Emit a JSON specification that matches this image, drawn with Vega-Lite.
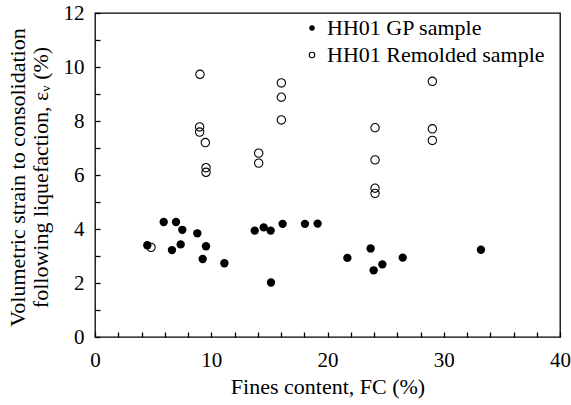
{
  "$schema": "https://vega.github.io/schema/vega-lite/v6.json",
  "width": 465,
  "height": 324,
  "autosize": "none",
  "padding": {"left": 95, "top": 13, "right": 11, "bottom": 68},
  "background": "white",
  "config": {
    "font": "Liberation Serif",
    "view": {"stroke": "black", "strokeWidth": 1.3, "fill": null},
    "axis": {
      "domain": false, "tickColor": "black", "tickWidth": 1.3, "ticks": true, "zindex": 2,
      "labelColor": "black", "titleColor": "black", "grid": false,
      "labelFont": "Liberation Serif", "titleFont": "Liberation Serif",
      "labelFontSize": 21, "titleFontSize": 22, "titleFontWeight": "normal",
      "labelOverlap": false, "labelFlush": false
    },
    "legend": {
      "labelFont": "Liberation Serif", "labelFontSize": 22, "labelColor": "black", "labelLimit": 0
    }
  },
  "data": {
    "values": [
      {"sample": "HH01 Remolded sample", "fc": 9.03, "ev": 9.73},
      {"sample": "HH01 Remolded sample", "fc": 9.0, "ev": 7.78},
      {"sample": "HH01 Remolded sample", "fc": 9.0, "ev": 7.59},
      {"sample": "HH01 Remolded sample", "fc": 9.49, "ev": 7.2},
      {"sample": "HH01 Remolded sample", "fc": 9.55, "ev": 6.27},
      {"sample": "HH01 Remolded sample", "fc": 9.55, "ev": 6.1},
      {"sample": "HH01 Remolded sample", "fc": 14.08, "ev": 6.81},
      {"sample": "HH01 Remolded sample", "fc": 14.08, "ev": 6.44},
      {"sample": "HH01 Remolded sample", "fc": 16.03, "ev": 9.41},
      {"sample": "HH01 Remolded sample", "fc": 16.03, "ev": 8.88},
      {"sample": "HH01 Remolded sample", "fc": 16.03, "ev": 8.04},
      {"sample": "HH01 Remolded sample", "fc": 29.02, "ev": 9.47},
      {"sample": "HH01 Remolded sample", "fc": 29.02, "ev": 7.71},
      {"sample": "HH01 Remolded sample", "fc": 29.02, "ev": 7.28},
      {"sample": "HH01 Remolded sample", "fc": 24.09, "ev": 7.75},
      {"sample": "HH01 Remolded sample", "fc": 24.09, "ev": 6.56},
      {"sample": "HH01 Remolded sample", "fc": 24.09, "ev": 5.51},
      {"sample": "HH01 Remolded sample", "fc": 24.09, "ev": 5.32},
      {"sample": "HH01 Remolded sample", "fc": 4.82, "ev": 3.32},
      {"sample": "HH01 GP sample", "fc": 4.5, "ev": 3.4},
      {"sample": "HH01 GP sample", "fc": 5.91, "ev": 4.26},
      {"sample": "HH01 GP sample", "fc": 6.62, "ev": 3.22},
      {"sample": "HH01 GP sample", "fc": 6.97, "ev": 4.26},
      {"sample": "HH01 GP sample", "fc": 7.37, "ev": 3.43},
      {"sample": "HH01 GP sample", "fc": 7.51, "ev": 3.97},
      {"sample": "HH01 GP sample", "fc": 8.8, "ev": 3.84},
      {"sample": "HH01 GP sample", "fc": 9.26, "ev": 2.89},
      {"sample": "HH01 GP sample", "fc": 9.55, "ev": 3.36},
      {"sample": "HH01 GP sample", "fc": 11.13, "ev": 2.73},
      {"sample": "HH01 GP sample", "fc": 13.74, "ev": 3.94},
      {"sample": "HH01 GP sample", "fc": 14.51, "ev": 4.06},
      {"sample": "HH01 GP sample", "fc": 15.11, "ev": 3.94},
      {"sample": "HH01 GP sample", "fc": 15.14, "ev": 2.02},
      {"sample": "HH01 GP sample", "fc": 16.14, "ev": 4.19},
      {"sample": "HH01 GP sample", "fc": 18.06, "ev": 4.19},
      {"sample": "HH01 GP sample", "fc": 19.15, "ev": 4.2},
      {"sample": "HH01 GP sample", "fc": 21.71, "ev": 2.93},
      {"sample": "HH01 GP sample", "fc": 23.71, "ev": 3.28},
      {"sample": "HH01 GP sample", "fc": 23.97, "ev": 2.47},
      {"sample": "HH01 GP sample", "fc": 24.72, "ev": 2.69},
      {"sample": "HH01 GP sample", "fc": 26.47, "ev": 2.94},
      {"sample": "HH01 GP sample", "fc": 33.2, "ev": 3.23}
    ]
  },
  "mark": {"type": "point", "shape": "circle", "stroke": "black", "opacity": 1},
  "encoding": {
    "x": {
      "field": "fc", "type": "quantitative",
      "scale": {"domain": [0, 40], "nice": false, "zero": false},
      "axis": {
        "values": [0, 2, 4, 6, 8, 10, 12, 14, 16, 18, 20, 22, 24, 26, 28, 30, 32, 34, 36, 38, 40],
        "labelExpr": "datum.value % 10 == 0 ? datum.label : ''",
        "offset": -5,
        "tickSize": 5,
        "labelPadding": 12,
        "title": "Fines content, FC (%)",
        "titlePadding": 6
      }
    },
    "y": {
      "field": "ev", "type": "quantitative",
      "scale": {"domain": [0, 12], "nice": false, "zero": false},
      "axis": {
        "values": [0, 1, 2, 3, 4, 5, 6, 7, 8, 9, 10, 11, 12],
        "labelExpr": "datum.value % 2 == 0 ? datum.label : ''",
        "offset": -5,
        "tickSize": 5,
        "labelPadding": 11,
        "title": ["Volumetric strain to consolidation", "following liquefaction, εᵥ (%)"],
        "titleAngle": -90,
        "titleX": -83,
        "titleY": 164,
        "titleAlign": "center",
        "titleBaseline": "middle",
        "titleLineHeight": 23
      }
    },
    "fill": {
      "field": "sample", "type": "nominal",
      "scale": {"domain": ["HH01 GP sample", "HH01 Remolded sample"], "range": ["black", "transparent"]},
      "legend": {
        "title": null, "orient": "none", "legendX": 206, "legendY": 4, "padding": 0,
        "symbolType": "circle", "symbolSize": 30, "symbolStrokeColor": "black", "symbolStrokeWidth": 1,
        "labelOffset": 4, "rowPadding": 5
      }
    },
    "strokeWidth": {
      "field": "sample", "type": "nominal",
      "scale": {"domain": ["HH01 GP sample", "HH01 Remolded sample"], "range": [0, 1.1]},
      "legend": null
    },
    "size": {"value": 70}
  }
}
